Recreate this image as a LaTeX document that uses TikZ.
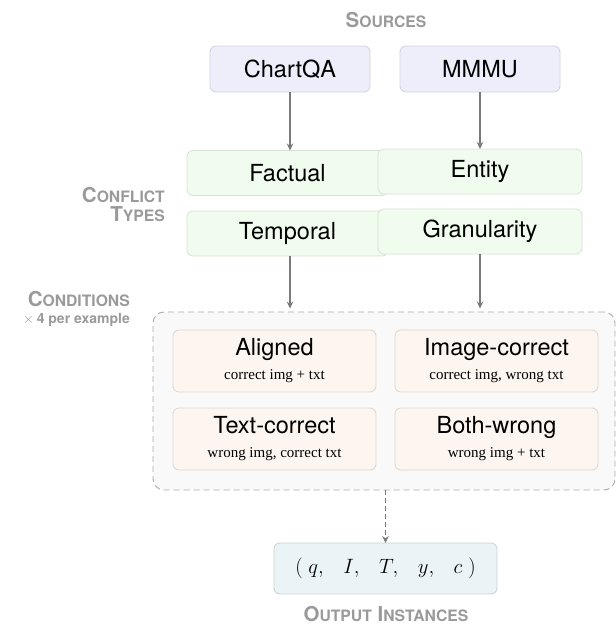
\documentclass[tikz,border=0pt]{standalone}
\usepackage{fontspec}
\setmainfont{TeX Gyre Heros}
\newfontfamily\subserif{Liberation Serif}
\usetikzlibrary{arrows.meta,calc}
\definecolor{lblgray}{HTML}{9A9A9A}
\definecolor{arrgray}{HTML}{7A7A7A}
\definecolor{srcfill}{HTML}{EEEEFB}
\definecolor{srcdraw}{HTML}{CFCFDF}
\definecolor{cftfill}{HTML}{F0FCEE}
\definecolor{cftdraw}{HTML}{D6E2D4}
\definecolor{condfill}{HTML}{FDF6F0}
\definecolor{conddraw}{HTML}{DDD6D0}
\definecolor{contfill}{HTML}{F9F9F9}
\definecolor{contdraw}{HTML}{ABABAB}
\definecolor{outfill}{HTML}{EAF3F5}
\definecolor{outdraw}{HTML}{C8D2D4}
\newcommand{\mainsz}{\fontsize{23.5}{27}\selectfont}
\newcommand{\subsz}{\subserif\fontsize{15}{18}\selectfont}
\newcommand{\bigsc}{\fontsize{20.5}{24}\selectfont}
\newcommand{\smallsc}{\fontsize{15.7}{24}\selectfont}
\newcommand{\sclab}[2]{{\bigsc #1}{\smallsc #2}}
\begin{document}
\begin{tikzpicture}[x=1pt,y=-1pt,
  box/.style={rectangle,rounded corners=6pt,inner sep=0pt,outer sep=0pt,line width=0.8pt,font=\mainsz,text=black},
  srcbox/.style={box,fill=srcfill,draw=srcdraw,minimum width=160pt,minimum height=46pt},
  cftbox/.style={box,fill=cftfill,draw=cftdraw,minimum height=45pt},
  condbox/.style={box,fill=condfill,draw=conddraw,minimum width=203pt,minimum height=62pt,align=center},
  lbl/.style={font=\bfseries,text=lblgray,inner sep=0pt},
  arr/.style={draw=arrgray,line width=1.2pt,-{Stealth[length=7pt,width=6.5pt]}}
]
\useasboundingbox (0,0) rectangle (616,630);

% labels
\node[lbl] (lsrc) at (386,20) {\sclab{S}{OURCES}};
\node[lbl,anchor=east] (lcft1) at (165,195) {\sclab{C}{ONFLICT}};
\node[lbl,anchor=east] (lcft2) at (165,214) {\sclab{T}{YPES}};
\node[lbl,anchor=east] (lcond1) at (130,299) {\sclab{C}{ONDITIONS}};
\node[lbl,anchor=east] (lcond2) at (130,320) {{\mdseries\fontsize{14}{16}\selectfont$\times$} {\fontsize{14}{16}\selectfont 4 per example}};
\node[lbl] (lout) at (386,614) {\sclab{O}{UTPUT}{\bigsc\ }\sclab{I}{NSTANCES}};

% sources
\node[srcbox] (chartqa) at (290,69) {ChartQA};
\node[srcbox] (mmmu) at (480,69) {MMMU};

% conflict types
\node[cftbox,minimum width=201pt] (factual) at (287.5,173) {Factual};
\node[cftbox,minimum width=204pt] (entity) at (480,171.5) {Entity};
\node[cftbox,minimum width=201pt] (temporal) at (287.5,233.5) {Temporal};
\node[cftbox,minimum width=204pt] (granularity) at (480,231.5) {Granularity};

% container
\node[rectangle,rounded corners=11pt,fill=contfill,draw=contdraw,line width=0.9pt,
  dash pattern=on 6pt off 4pt,minimum width=462pt,minimum height=178pt,inner sep=0pt] (cont) at (384,401) {};

% conditions
\node[condbox] (aligned) at (274.5,361) {Aligned\\[-3pt]{\subsz correct img + txt}};
\node[condbox] (imgcorr) at (496.5,361) {Image-correct\\[-3pt]{\subsz correct img, wrong txt}};
\node[condbox] (txtcorr) at (274.5,439) {Text-correct\\[-3pt]{\subsz wrong img, correct txt}};
\node[condbox] (bothwrong) at (496.5,439) {Both-wrong\\[-3pt]{\subsz wrong img + txt}};

% output
\node[box,fill=outfill,draw=outdraw,minimum width=223pt,minimum height=51pt,font=\fontsize{22}{26}\selectfont] (out) at (385.5,568.5)
  {$(\;q,\;\;\:I,\;\;\:T,\;\;\:y,\;\;\:c\;)$};

% arrows
\draw[arr] (chartqa.south) -- (chartqa.south |- factual.north);
\draw[arr] (mmmu.south) -- (mmmu.south |- entity.north);
\draw[arr] (chartqa.south |- temporal.south) -- ($(chartqa.south |- cont.north)+(0,-3)$);
\draw[arr] (mmmu.south |- granularity.south) -- ($(mmmu.south |- cont.north)+(0,-3)$);
\draw[arr,dash pattern=on 5pt off 3pt] (out.north |- cont.south) -- (out.north);
\end{tikzpicture}
\end{document}
